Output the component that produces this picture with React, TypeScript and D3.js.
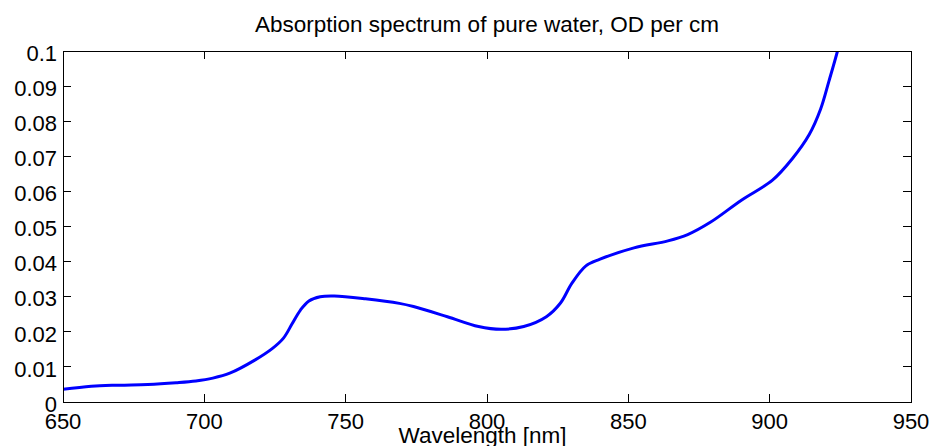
import React from "react";
import * as d3 from "d3";

const wavelengths = [650, 660, 670, 680, 690, 697, 703, 709, 718, 724, 728, 731, 734, 737, 741, 746, 757, 769, 774, 786, 797, 805, 813, 821, 826, 830, 835, 840, 852, 864, 871, 879, 890, 901, 908, 914, 918, 921, 924, 926];
const absorbance = [0.0036, 0.0045, 0.0048, 0.0050, 0.0055, 0.0060, 0.0068, 0.0082, 0.0120, 0.0152, 0.0182, 0.0222, 0.0262, 0.0288, 0.0300, 0.0302, 0.0294, 0.0281, 0.0272, 0.0243, 0.0215, 0.0207, 0.0215, 0.0243, 0.0282, 0.0338, 0.0388, 0.0407, 0.0439, 0.0459, 0.0477, 0.0512, 0.0575, 0.0632, 0.0693, 0.0762, 0.0834, 0.0915, 0.1000, 0.1065];
const xTicks = [650, 700, 750, 800, 850, 900, 950];
const yTicks = [0, 0.01, 0.02, 0.03, 0.04, 0.05, 0.06, 0.07, 0.08, 0.09, 0.1];
const yTickLabels = ["0", "0.01", "0.02", "0.03", "0.04", "0.05", "0.06", "0.07", "0.08", "0.09", "0.1"];
const title = "Absorption spectrum of pure water, OD per cm";
const xLabel = "Wavelength [nm]";

const W = 933, H = 446;
const L = 63, R = 911, T = 51, B = 402;
const font = "'Liberation Sans', Arial, Helvetica, sans-serif";

export default function App() {
  const x = d3.scaleLinear().domain([650, 950]).range([L, R]);
  const y = d3.scaleLinear().domain([0, 0.1]).range([B, T]);
  const pts: [number, number][] = wavelengths.map((w, i) => [w, absorbance[i]]);
  const line = d3
    .line<[number, number]>()
    .x((d) => x(d[0]))
    .y((d) => y(d[1]))
    .curve(d3.curveCatmullRom.alpha(0.5));
  const tl = 8;
  return (
    <div style={{ position: "fixed", left: 0, top: 0 }}>
      <svg width={W} height={H} style={{ display: "block", background: "#fff" }}>
        <defs>
          <clipPath id="plotclip">
            <rect x={L} y={T} width={R - L} height={B - T} />
          </clipPath>
        </defs>
        <rect x={0} y={0} width={W} height={H} fill="#fff" />
        <path d={line(pts) || ""} fill="none" stroke="#0000ff" strokeWidth={3} clipPath="url(#plotclip)" strokeLinejoin="round" />
        <g stroke="#000" strokeWidth={1} shapeRendering="crispEdges">
          <rect x={L} y={T} width={R - L} height={B - T} fill="none" />
          {xTicks.map((t) => (
            <g key={"xt" + t}>
              <line x1={x(t)} x2={x(t)} y1={B} y2={B - tl} />
              <line x1={x(t)} x2={x(t)} y1={T} y2={T + tl} />
            </g>
          ))}
          {yTicks.map((t) => (
            <g key={"yt" + t}>
              <line x1={L} x2={L + tl} y1={y(t)} y2={y(t)} />
              <line x1={R} x2={R - tl} y1={y(t)} y2={y(t)} />
            </g>
          ))}
        </g>
        <g fontFamily={font} fontSize={22} fill="#000">
          {xTicks.map((t) => (
            <text key={"xl" + t} x={x(t)} y={B + 27} textAnchor="middle">
              {String(t)}
            </text>
          ))}
          {yTicks.map((t, i) => (
            <text key={"yl" + t} x={L - 6} y={y(t) + 9.7} textAnchor="end">
              {yTickLabels[i]}
            </text>
          ))}
        </g>
        <text x={(L + R) / 2} y={32} textAnchor="middle" fontFamily={font} fontSize={22.5} fill="#000">
          {title}
        </text>
        <text x={482.5} y={443} textAnchor="middle" fontFamily={font} fontSize={22.5} fill="#000">
          {xLabel}
        </text>
      </svg>
    </div>
  );
}
